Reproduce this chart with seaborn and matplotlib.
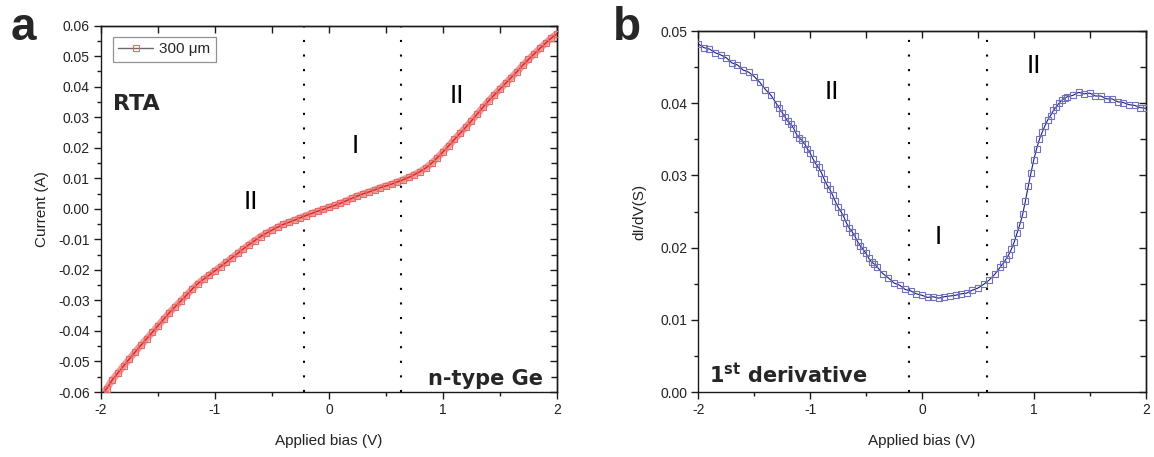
import matplotlib
matplotlib.use("Agg")
import matplotlib.pyplot as plt
import pandas as pd
import seaborn as sns
from matplotlib.lines import Line2D
from matplotlib.ticker import MultipleLocator, FormatStrFormatter, NullFormatter

# Applied bias sweep (V) for the I-V curve
bias_v = [
    -2.00, -1.95, -1.90, -1.85, -1.80, -1.75, -1.70, -1.65, -1.60, -1.55,
    -1.50, -1.45, -1.40, -1.35, -1.30, -1.25, -1.20, -1.15, -1.10, -1.05,
    -1.00, -0.95, -0.90, -0.85, -0.80, -0.75, -0.70, -0.65, -0.60, -0.55,
    -0.50, -0.45, -0.40, -0.35, -0.30, -0.25, -0.20, -0.15, -0.10, -0.05,
    0.00, 0.05, 0.10, 0.15, 0.20, 0.25, 0.30, 0.35, 0.40, 0.45,
    0.50, 0.55, 0.60, 0.65, 0.70, 0.75, 0.80, 0.85, 0.90, 0.95,
    1.00, 1.05, 1.10, 1.15, 1.20, 1.25, 1.30, 1.35, 1.40, 1.45,
    1.50, 1.55, 1.60, 1.65, 1.70, 1.75, 1.80, 1.85, 1.90, 1.95,
    2.00,
]

# Measured current (A) of the 300 um contact
current_a = [
    -0.0612, -0.0589, -0.0560, -0.0537, -0.0514, -0.0491, -0.0469, -0.0447, -0.0426, -0.0405,
    -0.0383, -0.0362, -0.0340, -0.0321, -0.0302, -0.0283, -0.0263, -0.0245, -0.0231, -0.0217,
    -0.0203, -0.0189, -0.0175, -0.0160, -0.0146, -0.0131, -0.0117, -0.0104, -0.0091, -0.0080,
    -0.0070, -0.0060, -0.0051, -0.0044, -0.0037, -0.0029, -0.0022, -0.0015, -0.0008, -0.0002,
    0.0005, 0.0011, 0.0018, 0.0026, 0.0034, 0.0042, 0.0049, 0.0055, 0.0062, 0.0069,
    0.0075, 0.0081, 0.0088, 0.0095, 0.0103, 0.0112, 0.0122, 0.0134, 0.0149, 0.0167,
    0.0186, 0.0206, 0.0227, 0.0247, 0.0267, 0.0288, 0.0310, 0.0332, 0.0353, 0.0373,
    0.0392, 0.0411, 0.0430, 0.0449, 0.0470, 0.0489, 0.0507, 0.0525, 0.0542, 0.0559,
    0.0573,
]

# Bias points (V) of the derivative, finer where the slope is steep
bias_didv = [
    -2.00, -1.95, -1.90, -1.85, -1.80, -1.75, -1.70, -1.65, -1.60, -1.55,
    -1.50, -1.45, -1.40, -1.35,
    -1.300, -1.275, -1.250, -1.225, -1.200, -1.175, -1.150, -1.125, -1.100, -1.075,
    -1.050, -1.025, -1.000, -0.975, -0.950, -0.925, -0.900, -0.875, -0.850, -0.825,
    -0.800, -0.775, -0.750, -0.725, -0.700, -0.675, -0.650, -0.625, -0.600, -0.575,
    -0.550, -0.525, -0.500, -0.475, -0.450, -0.425, -0.400,
    -0.35, -0.30, -0.25, -0.20, -0.15, -0.10, -0.05, 0.00, 0.05, 0.10,
    0.15, 0.20, 0.25, 0.30, 0.35, 0.40, 0.45, 0.50, 0.55, 0.60, 0.65,
    0.700, 0.725, 0.750, 0.775, 0.800, 0.825, 0.850, 0.875, 0.900, 0.925,
    0.950, 0.975, 1.000, 1.025, 1.050, 1.075, 1.100, 1.125, 1.150, 1.175,
    1.200, 1.225, 1.250, 1.275, 1.300,
    1.35, 1.40, 1.45, 1.50, 1.55, 1.60, 1.65, 1.70, 1.75, 1.80,
    1.85, 1.90, 1.95, 2.00,
]

# First derivative dI/dV (S)
didv_s = [
    0.0482, 0.0477, 0.0475, 0.0470, 0.0467, 0.0463, 0.0456, 0.0453, 0.0446, 0.0443,
    0.0437, 0.0429, 0.0419, 0.0411,
    0.0399, 0.0393, 0.0387, 0.0381, 0.0375, 0.0371, 0.0366, 0.0358, 0.0352, 0.0349,
    0.0344, 0.0337, 0.0331, 0.0323, 0.0316, 0.0311, 0.0304, 0.0295, 0.0287, 0.0281,
    0.0273, 0.0264, 0.0256, 0.0250, 0.0243, 0.0234, 0.0227, 0.0222, 0.0216, 0.0208,
    0.0202, 0.0197, 0.0192, 0.0185, 0.0180, 0.0177, 0.0173,
    0.0164, 0.0158, 0.0151, 0.0148, 0.0142, 0.0140, 0.0136, 0.0134, 0.0131, 0.0132,
    0.0130, 0.0132, 0.0133, 0.0134, 0.0136, 0.0137, 0.0141, 0.0144, 0.0149, 0.0155, 0.0163,
    0.0173, 0.0178, 0.0184, 0.0190, 0.0198, 0.0208, 0.0220, 0.0232, 0.0246, 0.0265,
    0.0285, 0.0304, 0.0322, 0.0337, 0.0350, 0.0360, 0.0369, 0.0377, 0.0383, 0.0390,
    0.0395, 0.0400, 0.0404, 0.0407, 0.0409,
    0.0411, 0.0415, 0.0413, 0.0414, 0.0410, 0.0410, 0.0406, 0.0406, 0.0402, 0.0401,
    0.0398, 0.0397, 0.0394, 0.0393,
]

# Region boundaries (V)
bounds_iv = [-0.22, 0.63]
bounds_didv = [-0.12, 0.58]

# Region labels: (text, bias, value)
regions_iv = [("II", -0.684, 0.0022), ("I", 0.228, 0.0207), ("II", 1.125, 0.0369)]
regions_didv = [("II", -0.802, 0.0415), ("I", 0.145, 0.0215), ("II", 0.997, 0.0451)]

legend_label = "300 \u03bcm"

sns.set_theme(style="ticks")
plt.rcParams.update({
    "font.family": ["Liberation Sans", "DejaVu Sans"],
    "axes.unicode_minus": False,
    "axes.linewidth": 1.0,
    "axes.edgecolor": "#1a1a1a",
    "xtick.color": "#1a1a1a",
    "ytick.color": "#1a1a1a",
    "xtick.labelcolor": "#222222",
    "ytick.labelcolor": "#222222",
    "axes.labelcolor": "#222222",
})

fig = plt.figure(figsize=(11.54, 4.57), dpi=100)
ax_iv = fig.add_axes([0.0875, 0.1422, 0.3951, 0.8018])
ax_dd = fig.add_axes([0.6051, 0.1422, 0.3877, 0.7899])

iv = pd.DataFrame({"bias": bias_v, "current": current_a})
dd = pd.DataFrame({"bias": bias_didv, "didv": didv_s})


def frame(ax, ymaj, ymin, yfmt):
    ax.set_xlim(-2, 2)
    ax.xaxis.set_major_locator(MultipleLocator(1))
    ax.xaxis.set_minor_locator(MultipleLocator(0.5))
    ax.xaxis.set_major_formatter(FormatStrFormatter("%g"))
    ax.yaxis.set_major_locator(MultipleLocator(ymaj))
    ax.yaxis.set_minor_locator(MultipleLocator(ymin))
    ax.yaxis.set_major_formatter(FormatStrFormatter(yfmt))
    ax.tick_params(which="both", direction="out", top=False, right=False,
                   width=1.0, labelsize=10, pad=3)
    ax.tick_params(which="major", length=5)
    ax.tick_params(which="minor", length=3)
    # mirrored ticks pointing inward on the top and right edges
    top = ax.secondary_xaxis("top")
    top.xaxis.set_major_locator(MultipleLocator(1))
    top.xaxis.set_minor_locator(MultipleLocator(0.5))
    top.xaxis.set_major_formatter(NullFormatter())
    top.tick_params(which="both", direction="in", width=1.0)
    top.tick_params(which="major", length=5)
    top.tick_params(which="minor", length=5)
    right = ax.secondary_yaxis("right")
    right.yaxis.set_major_locator(MultipleLocator(ymaj))
    right.yaxis.set_minor_locator(MultipleLocator(ymin))
    right.yaxis.set_major_formatter(NullFormatter())
    right.tick_params(which="both", direction="in", width=1.0)
    right.tick_params(which="major", length=5)
    right.tick_params(which="minor", length=4)
    for sp in ax.spines.values():
        sp.set_visible(True)


dot_style = dict(color="black", linewidth=1.5, linestyle=(0, (1, 6)), zorder=1)

# ---- panel a: I-V curve ----
sns.lineplot(data=iv, x="bias", y="current", ax=ax_iv, color="#f09a9a",
             linewidth=5, zorder=2)
sns.lineplot(data=iv, x="bias", y="current", ax=ax_iv, color="#e0201c",
             linewidth=1.0, marker="s", markersize=3.8, markerfacecolor="none",
             markeredgecolor="#e46a6a", markeredgewidth=0.8, zorder=3)
ax_iv.set_ylim(-0.06, 0.06)
frame(ax_iv, 0.01, 0.005, "%.2f")
for b in bounds_iv:
    ax_iv.axvline(b, **dot_style)
for txt, x, y in regions_iv:
    ax_iv.text(x, y, txt, fontsize=19, ha="center", va="center", color="black")
ax_iv.text(-1.895, 0.0324, "RTA", fontsize=16, fontweight="bold",
           family="DejaVu Sans", ha="left", va="baseline")
ax_iv.text(1.877, -0.0577, "n-type Ge", fontsize=15, fontweight="bold",
           family="DejaVu Sans", ha="right", va="baseline")
ax_iv.set_xlabel("Applied bias (V)", fontsize=11)
ax_iv.set_ylabel("Current (A)", fontsize=11)
ax_iv.xaxis.set_label_coords(0.5, -0.115)
ax_iv.yaxis.set_label_coords(-0.115, 0.5)
handle = Line2D([0], [0], color="#6a6a6a", linewidth=1.0, marker="s", markersize=4,
                markerfacecolor="none", markeredgecolor="#e46a6a", markeredgewidth=0.8)
leg = ax_iv.legend([handle], [legend_label], loc="upper left",
                   bbox_to_anchor=(0.026, 0.969), fontsize=11, frameon=True,
                   fancybox=False, edgecolor="#777777", handlelength=2.3,
                   handletextpad=0.4, borderpad=0.35, borderaxespad=0)
leg.get_frame().set_linewidth(0.9)

# ---- panel b: first derivative ----
sns.lineplot(data=dd, x="bias", y="didv", ax=ax_dd, color="#1c1c78",
             linewidth=0.8, marker="s", markersize=4.6, markerfacecolor="none",
             markeredgecolor="#7070c0", markeredgewidth=0.8, zorder=3)
ax_dd.set_ylim(0.0, 0.05)
frame(ax_dd, 0.01, 0.005, "%.2f")
for b in bounds_didv:
    ax_dd.axvline(b, **dot_style)
for txt, x, y in regions_didv:
    ax_dd.text(x, y, txt, fontsize=19, ha="center", va="center", color="black")
ax_dd.text(-1.904, 0.00125, r"$\mathbf{1^{st}}$ derivative", fontsize=15,
           fontweight="bold", family="DejaVu Sans", ha="left", va="baseline")
ax_dd.set_xlabel("Applied bias (V)", fontsize=11)
ax_dd.set_ylabel("dI/dV(S)", fontsize=11)
ax_dd.xaxis.set_label_coords(0.5, -0.117)
ax_dd.yaxis.set_label_coords(-0.115, 0.5)

# panel letters
fig.text(0.0095, 0.912, "a", fontsize=33, fontweight="bold", va="baseline")
fig.text(0.531, 0.912, "b", fontsize=33, fontweight="bold", va="baseline")

fig.savefig("out.png", dpi=100, facecolor="white")
